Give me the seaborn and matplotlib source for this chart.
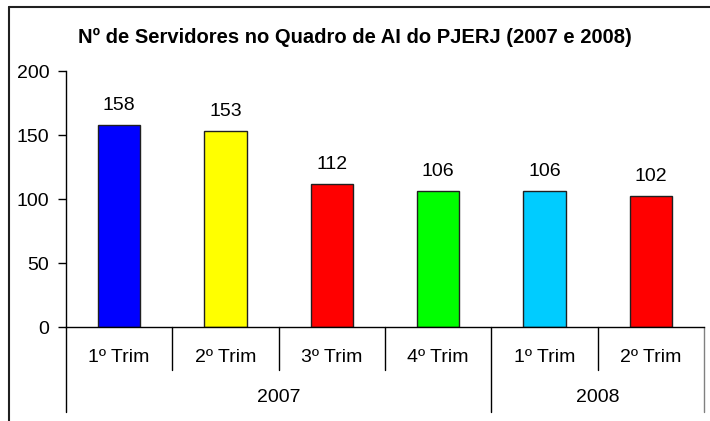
import numpy as np
import pandas as pd
import matplotlib
matplotlib.use("Agg")
import matplotlib.pyplot as plt
from matplotlib.lines import Line2D
import seaborn as sns

# dados do gráfico
trimestres = ["1º Trim", "2º Trim", "3º Trim", "4º Trim", "1º Trim", "2º Trim"]
anos = ["2007", "2007", "2007", "2007", "2008", "2008"]
servidores = [158, 153, 112, 106, 106, 102]
cores = ["#0000FF", "#FFFF00", "#FF0000", "#00FF00", "#00CCFF", "#FF0000"]

sns.set_style("white")
plt.rcParams["font.family"] = ["Liberation Sans", "DejaVu Sans"]
plt.rcParams["text.color"] = "black"
plt.rcParams["ytick.labelcolor"] = "black"

df = pd.DataFrame({
    "chave": [f"{a}-{t}" for a, t in zip(anos, trimestres)],
    "trimestre": trimestres,
    "ano": anos,
    "valor": servidores,
})

fig = plt.figure(figsize=(7.1, 4.21), dpi=100)
ax = fig.add_axes([66 / 710, 1 - 327 / 421, (704 - 66) / 710, (327 - 71) / 421])

sns.barplot(
    data=df, x="chave", y="valor", hue="chave",
    palette=dict(zip(df["chave"], cores)), legend=False,
    width=0.4, edgecolor="#202020", linewidth=1, saturation=1, ax=ax,
)

ax.set_ylim(0, 200)
ax.set_xlim(-0.5, len(df) - 0.5)
ax.set_yticks([0, 50, 100, 150, 200])
ax.tick_params(axis="y", direction="out", length=6, width=1, color="black",
               labelsize=14, pad=6, left=True, labelcolor="black")
ax.set_xticks([])
ax.set_xlabel("")
ax.set_ylabel("")
for s in ["top", "right"]:
    ax.spines[s].set_visible(False)
for s in ["left", "bottom"]:
    ax.spines[s].set_color("black")
    ax.spines[s].set_linewidth(1)

# rótulos de valor
for i, v in enumerate(df["valor"]):
    ax.annotate(str(v), (i, v), xytext=(0, 8), textcoords="offset points",
                ha="center", va="bottom", fontsize=14, color="black")

# eixo de categorias em dois níveis
trans = ax.get_xaxis_transform()
h_axes = (327 - 71)
y_q = -31 / h_axes
y_a = -71 / h_axes
y_sep_q = -43 / h_axes
y_sep_a = -85 / h_axes

for i, t in enumerate(df["trimestre"]):
    ax.text(i, y_q, t, transform=trans, ha="center", va="center", fontsize=14, color="black")

grupos = df.groupby("ano", sort=False).apply(lambda g: (g.index.min(), g.index.max()), include_groups=False)
for ano, (i0, i1) in grupos.items():
    ax.text((i0 + i1) / 2, y_a, ano, transform=trans, ha="center", va="center", fontsize=14, color="black")

limites_ano = [-0.5] + [i1 + 0.5 for (_, i1) in grupos.values]
for i in range(len(df) - 1):
    x = i + 0.5
    if x in limites_ano:
        continue
    ax.plot([x, x], [0, y_sep_q], transform=trans, color="black", lw=1, clip_on=False)
for x in limites_ano:
    cor = "#808080" if x == limites_ano[-1] else "black"
    ax.plot([x, x], [0, y_sep_a], transform=trans, color=cor, lw=1, clip_on=False)

fig.text(0.5, 1 - 37 / 421, "Nº de Servidores no Quadro de AI do PJERJ (2007 e 2008)",
         ha="center", va="center", fontsize=14.5, fontweight="bold", color="black")

# moldura do gráfico
fig.add_artist(Line2D([9 / 710, 1.0], [1 - 7 / 421] * 2, color="#202020", lw=1.5))
fig.add_artist(Line2D([9 / 710] * 2, [0.0, 1 - 7 / 421], color="#202020", lw=1.5))

fig.savefig("out.png", dpi=100)
